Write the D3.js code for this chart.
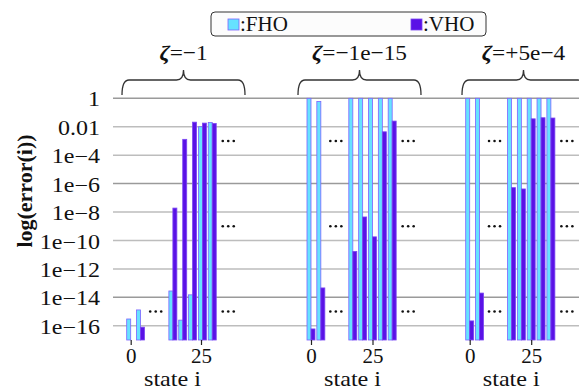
<!DOCTYPE html>
<meta charset="utf-8">
<html>
<head>
<script src="https://cdnjs.cloudflare.com/ajax/libs/d3/7.8.5/d3.min.js"></script>
<style>
  body { margin: 0; background: #fff; }
  svg text { font-family: "Liberation Serif", "DejaVu Serif", serif !important; fill: #111; }
  .axis .domain { display: none; }
</style>
</head>
<body>
<script>
// ---- data ----
var panelTitles = ["\u22121", "\u22121e\u221215", "+5e\u22124"];
var seriesNames = ["FHO", "VHO"];

// states of the bar pairs in each panel
var states1 = [0, 3.5, 15, 18.5, 22, 25.5, 29];
var states2 = [0, 4, 17, 21, 25, 29, 33];
var states3 = [0, 4, 17, 21, 25, 29, 33];

// error values (null = nothing drawn)
var fho1 = [3e-16, 1.3e-15, 2.8e-14, 2.5e-16, 1.5e-14, 1e-2, 2e-2];
var vho1 = [null, 8e-17, 1.9e-8, 1.3e-3, 2.1e-2, 1.8e-2, 1.7e-2];
var fho2 = [1, 0.6, 1, 1, 1, 1, 1];
var vho2 = [6e-17, 4.6e-14, 1.7e-11, 4.5e-9, 1.8e-10, 4.4e-3, 2.5e-2];
var fho3 = [1, 1, 1, 1, 1, 1, 1];
var vho3 = [2.2e-16, 2e-14, 5.2e-7, 4.2e-7, 3.6e-2, 4.3e-2, 4.1e-2];

var yTicks = [1, 1e-2, 1e-4, 1e-6, 1e-8, 1e-10, 1e-12, 1e-14, 1e-16];
var yTickLabels = ["1", "0.01", "1e\u22124", "1e\u22126", "1e\u22128", "1e\u221210", "1e\u221212", "1e\u221214", "1e\u221216"];
var xTicks = [0, 25];

// "..." markers: levels between the two groups and after the last group
var gapDots = [[1e-15], [1e-3, 1e-9, 1e-15], [1e-3, 1e-9, 1e-15]];
var endDots = [[1e-3, 1e-9, 1e-15], [1e-3, 1e-9, 1e-15], [1e-3, 1e-9, 1e-15]];

var panels = [
  {title: panelTitles[0], states: states1, fho: fho1, vho: vho1, range: [130.7, 201], braceL: 122},
  {title: panelTitles[1], states: states2, fho: fho2, vho: vho2, range: [311, 372.5], braceL: 298},
  {title: panelTitles[2], states: states3, fho: fho3, vho: vho3, range: [469.7, 531.2], braceL: 462}
];

var W = 579, H = 391;
var colFHO = "#66e2ff", colVHO = "#5a12e6";

var svg = d3.select("body").append("svg")
  .attr("width", W).attr("height", H);

var y = d3.scaleLog().domain([1e-17, 1]).range([340, 98.3]);

// grid lines
svg.append("g").selectAll("line")
  .data(yTicks)
  .enter().append("line")
  .attr("x1", 113).attr("x2", W)
  .attr("y1", function(d) { return y(d); })
  .attr("y2", function(d) { return y(d); })
  .attr("stroke", function(d, i) { return (i == 0 || i == 3 || i == 7) ? "#9a9a9a" : "#bdbdbd"; })
  .attr("stroke-width", 1.5);

// y axis labels (glyphs in the reference are a bit wider than Liberation Serif)
var yAxis = svg.append("g")
  .attr("class", "axis")
  .attr("transform", "translate(100,0) scale(1.2,1)")
  .call(d3.axisLeft(y).tickValues(yTicks)
    .tickFormat(function(d, i) { return yTickLabels[i]; })
    .tickSize(0).tickPadding(0));
yAxis.attr("font-family", null);
yAxis.selectAll("text")
  .style("font-size", "20px")
  .attr("fill", "#111")
  .attr("dy", "0.38em");

svg.append("text")
  .attr("transform", "translate(32,191) rotate(-90)")
  .attr("text-anchor", "middle")
  .style("font-size", "22px")
  .style("font-weight", "bold")
  .text("log(error(i))");

function bracePath(L, R, yb, ym, yt) {
  var M = (L + R) / 2, r = 7;
  return "M" + L + "," + yb + " Q" + L + "," + ym + " " + (L + r) + "," + ym +
    " L" + (M - r) + "," + ym + " Q" + M + "," + ym + " " + M + "," + yt +
    " Q" + M + "," + ym + " " + (M + r) + "," + ym +
    " L" + (R - r) + "," + ym + " Q" + R + "," + ym + " " + R + "," + yb;
}

function dots(g, cx, cy) {
  [-5.5, 0, 5.5].forEach(function(dx) {
    g.append("circle").attr("cx", cx + dx).attr("cy", cy).attr("r", 1.3).attr("fill", "#111");
  });
}

panels.forEach(function(p, pi) {
  var x = d3.scaleLinear().domain([0, 25]).range(p.range);
  var g = svg.append("g");
  var n = p.states.length;

  // bars
  g.selectAll("rect.fho")
    .data(p.states)
    .enter().append("rect")
    .attr("x", function(d) { return x(d) - 4; })
    .attr("width", 4)
    .attr("y", function(d, i) { return y(p.fho[i]); })
    .attr("height", function(d, i) { return y(1e-17) - y(p.fho[i]); })
    .attr("fill", colFHO)
    .attr("stroke", "#7c62ff")
    .attr("stroke-width", 0.8);

  g.selectAll("rect.vho")
    .data(p.states.filter(function(d, i) { return p.vho[i] != null; }))
    .enter().append("rect")
    .each(function(d) {
      var i = p.states.indexOf(d);
      d3.select(this)
        .attr("x", x(d))
        .attr("width", 4)
        .attr("y", y(p.vho[i]))
        .attr("height", y(1e-17) - y(p.vho[i]));
    })
    .attr("fill", colVHO)
    .attr("stroke", "#7a48f2")
    .attr("stroke-width", 0.8);

  // x axis ticks
  var xa = g.append("g")
    .attr("class", "axis")
    .attr("transform", "translate(0,340)")
    .call(d3.axisBottom(x).tickValues(xTicks).tickFormat(d3.format("d")).tickSize(5).tickPadding(3));
  xa.attr("font-family", null);
  xa.selectAll("line").attr("stroke", "#222").attr("stroke-width", 1.2);
  xa.selectAll("text")
    .style("font-size", "21px")
    .attr("fill", "#111");

  var first = x(p.states[0]), last = x(p.states[n - 1]);
  g.append("text")
    .attr("transform", "translate(" + ((first + last) / 2 + 1) + ",386) scale(1.15,1)")
    .attr("text-anchor", "middle")
    .style("font-size", "21px")
    .text("state i");

  // ... markers
  var gx = (x(p.states[1]) + x(p.states[2])) / 2 - 1;
  gapDots[pi].forEach(function(v) { dots(g, gx, y(v)); });
  endDots[pi].forEach(function(v) { dots(g, last + 16, y(v)); });

  // brace and title
  var L = p.braceL, R = L + 123;
  g.append("path")
    .attr("d", bracePath(L, R, 95, 80, 70))
    .attr("fill", "none")
    .attr("stroke", "#333")
    .attr("stroke-width", 1.3);

  var t = g.append("text")
    .attr("transform", "translate(" + ((L + R) / 2) + ",60) scale(1.06,1)")
    .attr("text-anchor", "middle")
    .style("font-size", "22px");
  t.append("tspan").style("font-weight", "bold").style("font-style", "italic").text("\u03b6");
  t.append("tspan").text("=" + p.title);
});

// legend
var lg = svg.append("g");
lg.append("rect")
  .attr("x", 211).attr("y", 12).attr("width", 275).attr("height", 24)
  .attr("rx", 4).attr("fill", "#fcfcfc").attr("stroke", "#333").attr("stroke-width", 1);
var legendX = [228, 411];
seriesNames.forEach(function(s, i) {
  lg.append("rect")
    .attr("x", legendX[i]).attr("y", 19).attr("width", 11).attr("height", 11)
    .attr("fill", i == 0 ? colFHO : colVHO)
    .attr("stroke", i == 0 ? "#7c62ff" : "#7a48f2").attr("stroke-width", 0.8);
  lg.append("text")
    .attr("x", legendX[i] + 12).attr("y", 31)
    .style("font-size", "21px")
    .text(":" + s);
});
</script>
</body>
</html>
